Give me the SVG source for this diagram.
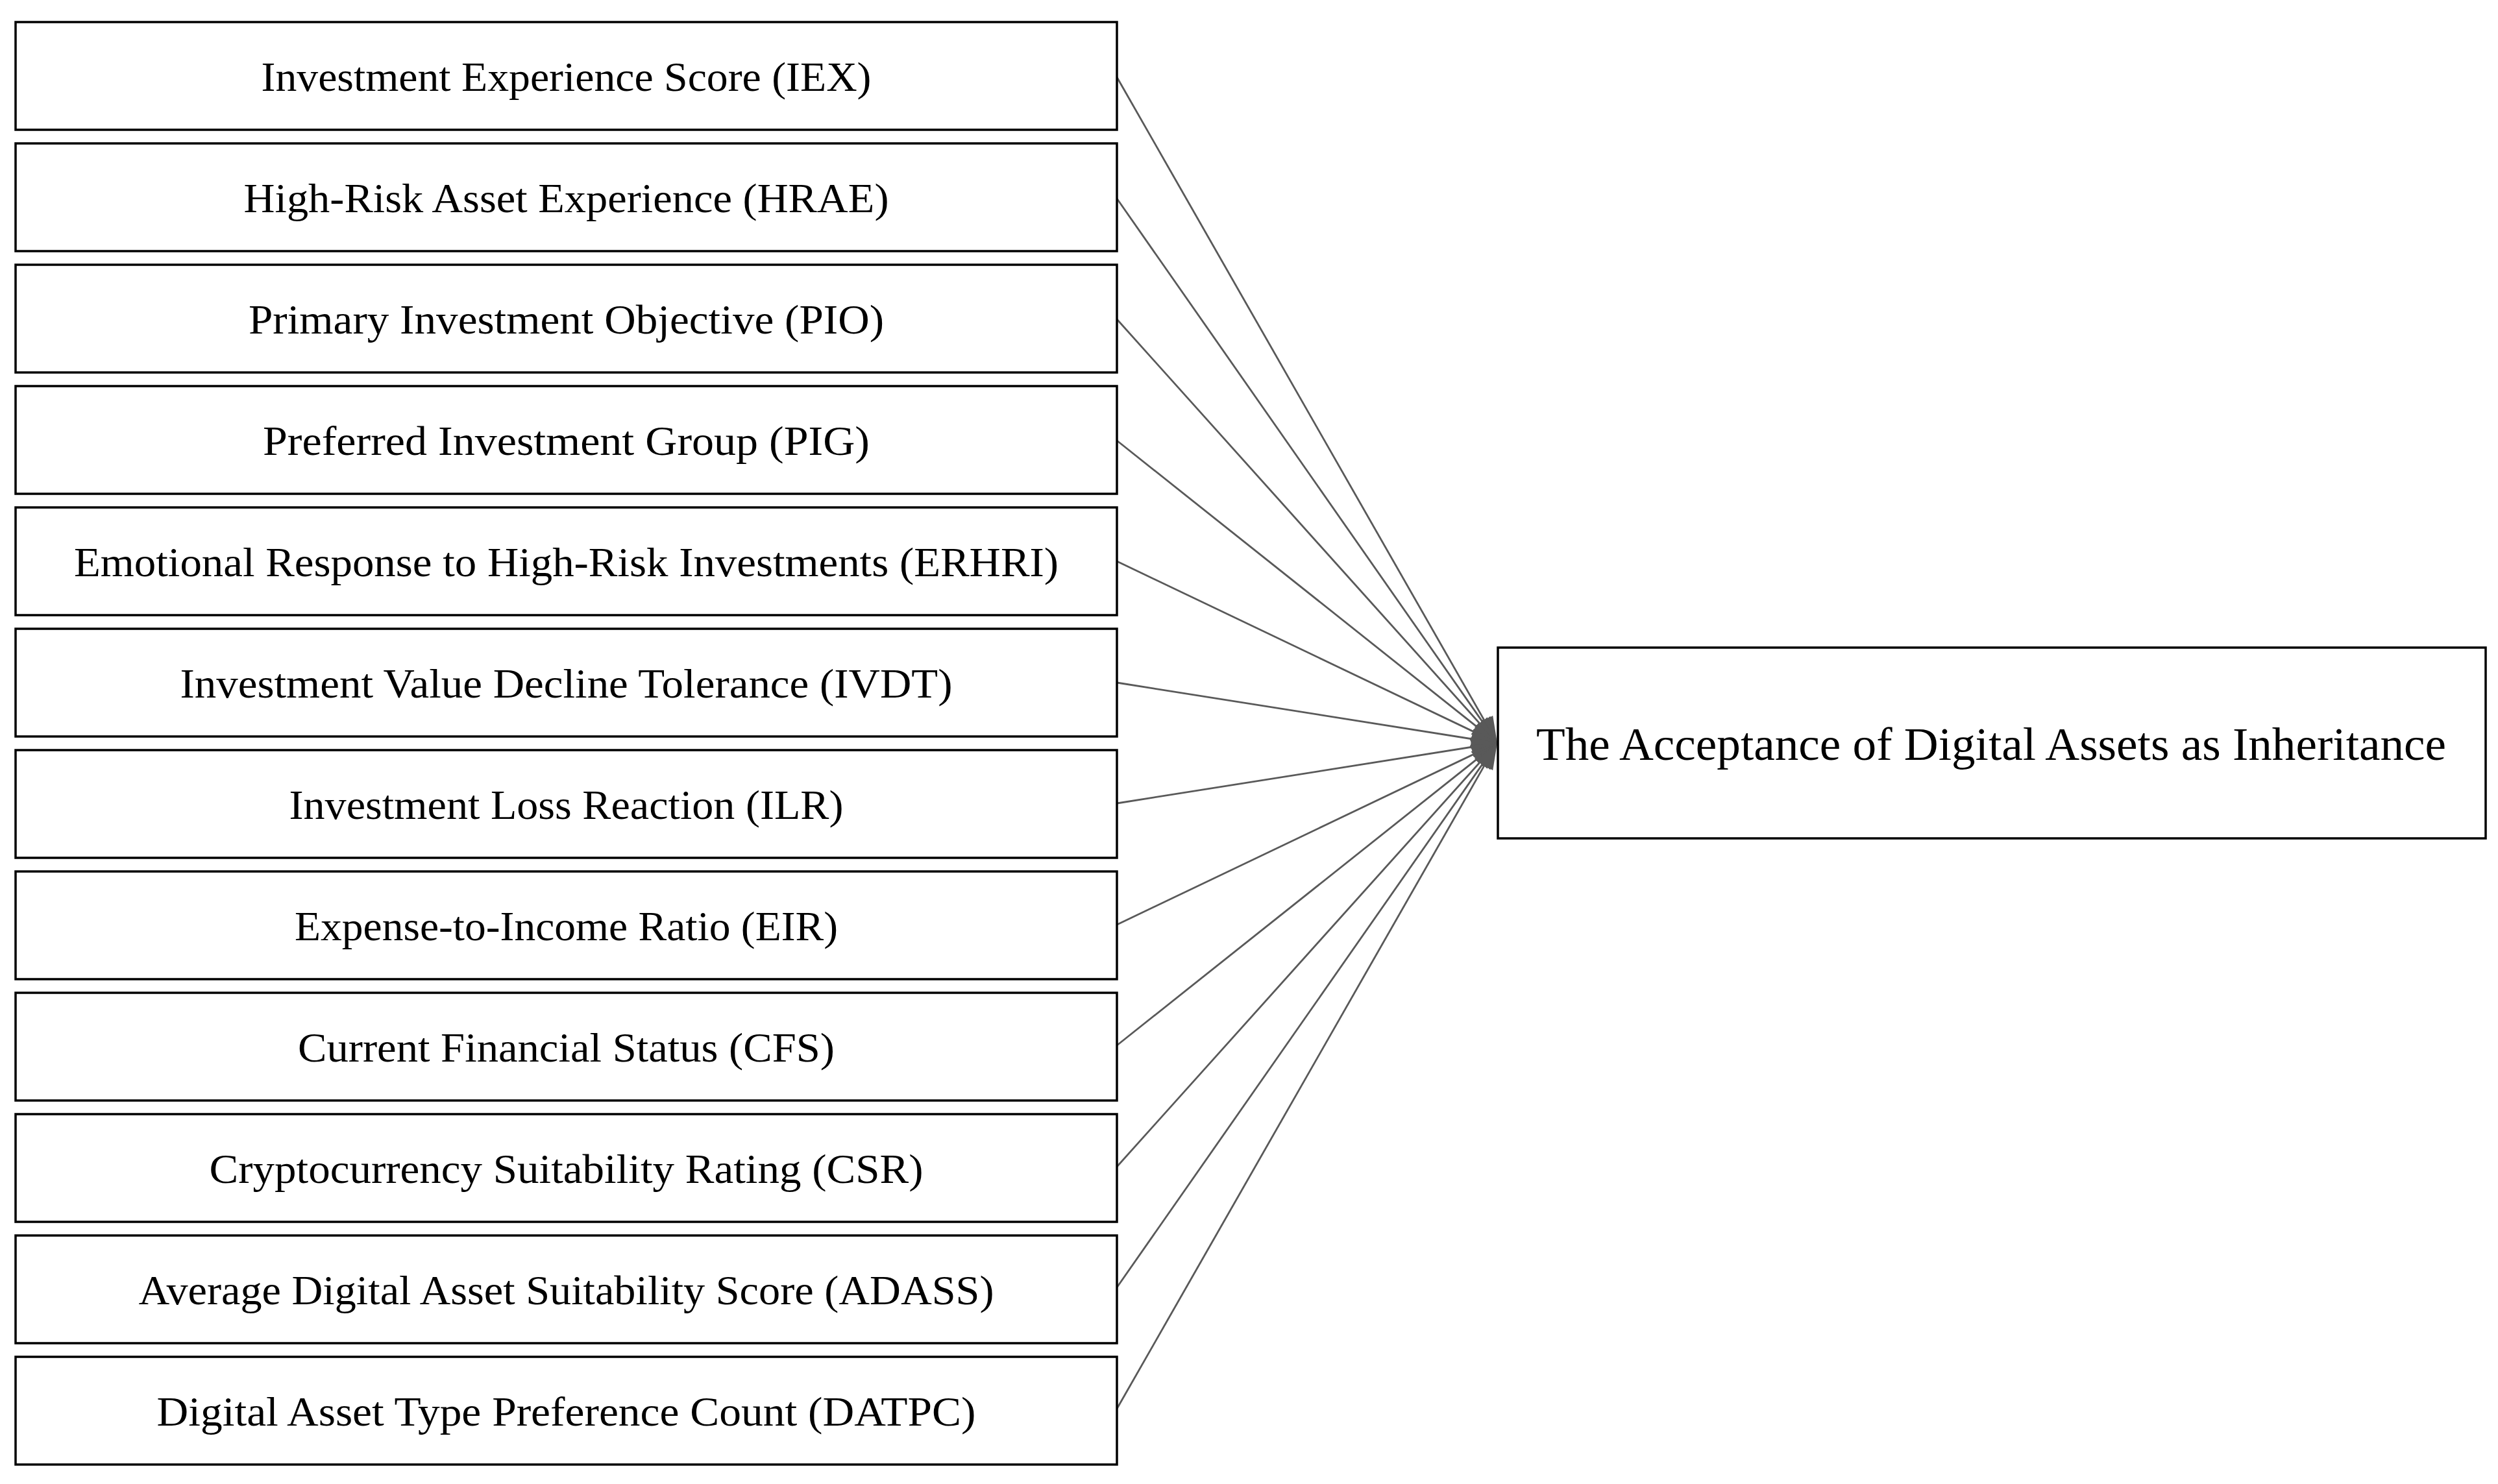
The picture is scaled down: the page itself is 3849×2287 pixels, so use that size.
<svg xmlns="http://www.w3.org/2000/svg" width="3849" height="2287" viewBox="0 0 3849 2287">
<style>
.box{fill:#fff;stroke:#000;stroke-width:3.5}
.lbl{font-family:"Liberation Serif","DejaVu Serif",serif;font-size:64px;fill:#000;text-anchor:middle}
.big{font-size:72px}
.edge{stroke:#595959;stroke-width:2.8;fill:none;marker-end:url(#ah)}
</style>
<defs>
<marker id="ah" viewBox="0 0 40 30" refX="40" refY="15" markerWidth="40" markerHeight="30" markerUnits="userSpaceOnUse" orient="auto">
<path d="M0,0 L40,15 L0,30 z" fill="#595959"/>
</marker>
</defs>
<rect width="3849" height="2287" fill="#fff"/>
<g id="connectors">
<line class="edge" x1="1721" y1="119" x2="2307" y2="1145"/>
<line class="edge" x1="1721" y1="306" x2="2307" y2="1145"/>
<line class="edge" x1="1721" y1="492" x2="2307" y2="1145"/>
<line class="edge" x1="1721" y1="679" x2="2307" y2="1145"/>
<line class="edge" x1="1721" y1="865" x2="2307" y2="1145"/>
<line class="edge" x1="1721" y1="1052" x2="2307" y2="1145"/>
<line class="edge" x1="1721" y1="1238" x2="2307" y2="1145"/>
<line class="edge" x1="1721" y1="1425" x2="2307" y2="1145"/>
<line class="edge" x1="1721" y1="1611" x2="2307" y2="1145"/>
<line class="edge" x1="1721" y1="1798" x2="2307" y2="1145"/>
<line class="edge" x1="1721" y1="1984" x2="2307" y2="1145"/>
<line class="edge" x1="1721" y1="2171" x2="2307" y2="1145"/>
</g>
<g id="n1"><rect class="box" x="24" y="34" width="1697" height="166"/><text class="lbl" x="872.5" y="140" textLength="940" lengthAdjust="spacingAndGlyphs">Investment Experience Score (IEX)</text></g>
<g id="n2"><rect class="box" x="24" y="221" width="1697" height="166"/><text class="lbl" x="872.5" y="327" textLength="994" lengthAdjust="spacingAndGlyphs">High-Risk Asset Experience (HRAE)</text></g>
<g id="n3"><rect class="box" x="24" y="408" width="1697" height="166"/><text class="lbl" x="872.5" y="514" textLength="979" lengthAdjust="spacingAndGlyphs">Primary Investment Objective (PIO)</text></g>
<g id="n4"><rect class="box" x="24" y="595" width="1697" height="166"/><text class="lbl" x="872.5" y="701" textLength="935" lengthAdjust="spacingAndGlyphs">Preferred Investment Group (PIG)</text></g>
<g id="n5"><rect class="box" x="24" y="782" width="1697" height="166"/><text class="lbl" x="872.5" y="888" textLength="1517" lengthAdjust="spacingAndGlyphs">Emotional Response to High-Risk Investments (ERHRI)</text></g>
<g id="n6"><rect class="box" x="24" y="969" width="1697" height="166"/><text class="lbl" x="872.5" y="1075" textLength="1190" lengthAdjust="spacingAndGlyphs">Investment Value Decline Tolerance (IVDT)</text></g>
<g id="n7"><rect class="box" x="24" y="1156" width="1697" height="166"/><text class="lbl" x="872.5" y="1262" textLength="854" lengthAdjust="spacingAndGlyphs">Investment Loss Reaction (ILR)</text></g>
<g id="n8"><rect class="box" x="24" y="1343" width="1697" height="166"/><text class="lbl" x="872.5" y="1449" textLength="837" lengthAdjust="spacingAndGlyphs">Expense-to-Income Ratio (EIR)</text></g>
<g id="n9"><rect class="box" x="24" y="1530" width="1697" height="166"/><text class="lbl" x="872.5" y="1636" textLength="827" lengthAdjust="spacingAndGlyphs">Current Financial Status (CFS)</text></g>
<g id="n10"><rect class="box" x="24" y="1717" width="1697" height="166"/><text class="lbl" x="872.5" y="1823" textLength="1100" lengthAdjust="spacingAndGlyphs">Cryptocurrency Suitability Rating (CSR)</text></g>
<g id="n11"><rect class="box" x="24" y="1904" width="1697" height="166"/><text class="lbl" x="872.5" y="2010" textLength="1318" lengthAdjust="spacingAndGlyphs">Average Digital Asset Suitability Score (ADASS)</text></g>
<g id="n12"><rect class="box" x="24" y="2091" width="1697" height="166"/><text class="lbl" x="872.5" y="2197" textLength="1262" lengthAdjust="spacingAndGlyphs">Digital Asset Type Preference Count (DATPC)</text></g>
<g id="target"><rect class="box" x="2308" y="998" width="1522" height="294"/><text class="lbl big" x="3068" y="1171" textLength="1402" lengthAdjust="spacingAndGlyphs">The Acceptance of Digital Assets as Inheritance</text></g>
</svg>
